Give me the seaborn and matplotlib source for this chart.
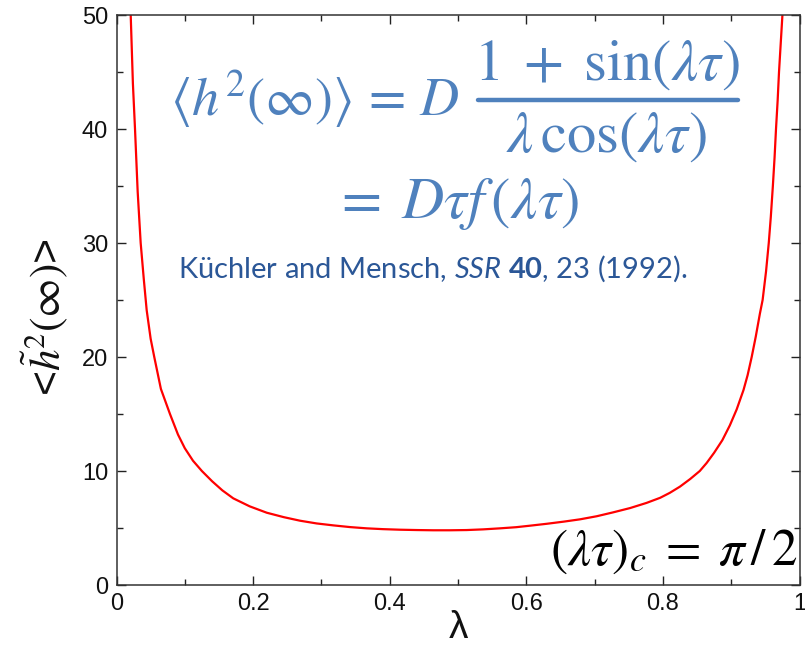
import matplotlib
matplotlib.use("Agg")
import matplotlib.pyplot as plt
from matplotlib.lines import Line2D
from matplotlib.ticker import MultipleLocator
import seaborn as sns
import pandas as pd

# Mean squared height at long times versus lambda
lam = [0.0208, 0.0240, 0.0271, 0.0310, 0.0354, 0.0400, 0.0442, 0.0500,
       0.0553, 0.0650, 0.0783, 0.0900, 0.1000, 0.1120, 0.1250, 0.1400,
       0.1550, 0.1710, 0.1950, 0.2200, 0.2450, 0.2687, 0.2930, 0.3174,
       0.3420, 0.3663, 0.3900, 0.4150, 0.4400, 0.4638, 0.4880, 0.5127,
       0.5370, 0.5615, 0.5850, 0.6050, 0.6300, 0.6550, 0.6786, 0.7030,
       0.7270, 0.7520, 0.7760, 0.7960, 0.8100, 0.8250, 0.8400, 0.8540,
       0.8640, 0.8750, 0.8870, 0.8980, 0.9080, 0.9180, 0.9240, 0.9300,
       0.9360, 0.9420, 0.9460, 0.9510, 0.9550, 0.9580, 0.9610, 0.9635,
       0.9656, 0.9680, 0.9700, 0.9725, 0.9750]
h2 = [50.0, 44.0, 40.0, 34.5, 30.0, 26.8, 24.1, 21.6,
      20.0, 17.2, 15.0, 13.2, 12.0, 10.9, 10.0, 9.1,
      8.3, 7.6, 6.9, 6.34, 5.95, 5.64, 5.40, 5.23,
      5.08, 4.97, 4.90, 4.85, 4.82, 4.80, 4.80, 4.82,
      4.88, 4.97, 5.07, 5.20, 5.37, 5.56, 5.76, 6.03,
      6.37, 6.75, 7.20, 7.65, 8.08, 8.63, 9.30, 10.0,
      10.7, 11.6, 12.7, 14.0, 15.4, 17.1, 18.4, 20.0,
      21.8, 23.8, 25.0, 27.5, 30.0, 32.3, 35.0, 37.5,
      40.0, 42.5, 45.0, 47.5, 50.0]

x_ticks = [0, 0.2, 0.4, 0.6, 0.8, 1]
x_tick_labels = ["0", "0.2", "0.4", "0.6", "0.8", "1"]
y_ticks = [0, 10, 20, 30, 40, 50]

df = pd.DataFrame({"lam": lam, "h2": h2})

sns.set_theme(style="ticks")
plt.rcParams["font.family"] = ["Liberation Sans", "DejaVu Sans"]
plt.rcParams["mathtext.fontset"] = "custom"
plt.rcParams["mathtext.rm"] = "Lato"
plt.rcParams["mathtext.it"] = "Lato:italic"
plt.rcParams["mathtext.bf"] = "Lato:bold"

W, H = 805, 649
fig = plt.figure(figsize=(W / 100, H / 100), dpi=100)
ax = fig.add_axes([116.5 / W, 1 - 585 / H, 683 / W, 570 / H])


def px(x, y):
    return x / W, 1 - y / H


sns.lineplot(data=df, x="lam", y="h2", ax=ax, color="#ff0000",
             linewidth=1.6, estimator=None, sort=False)

ax.set_xlim(0, 1)
ax.set_ylim(0, 50)
ax.set_xticks(x_ticks)
ax.set_xticklabels(x_tick_labels)
ax.set_yticks(y_ticks)
ax.xaxis.set_minor_locator(MultipleLocator(0.1))
ax.yaxis.set_minor_locator(MultipleLocator(5))
ax.tick_params(which="both", direction="in", top=True, right=True,
               color="#222222", width=1.0)
ax.tick_params(which="major", length=6.5, labelsize=17, pad=6,
               labelcolor="#111111")
ax.tick_params(which="minor", length=4)
for s in ax.spines.values():
    s.set_color("#333333")
    s.set_linewidth(1.1)

ax.set_xlabel("λ", fontsize=28, labelpad=-4, color="#111111")
ax.set_ylabel(r"<$\tilde{h}^2(\infty)$>", fontsize=31, color="#111111",
              math_fontfamily="stix")
ax.yaxis.set_label_coords(-0.066, 0.47)

blue = "#4f81bd"
fsz = 42
fig.text(*px(170, 116), r"$\langle h^2(\infty)\rangle\,=\,D$", color=blue,
         fontsize=39, math_fontfamily="stix", va="baseline", ha="left")
fig.text(*px(607, 80), r"$1\;+\;\sin(\lambda\tau)$", color=blue,
         fontsize=fsz, math_fontfamily="stix", va="baseline", ha="center")
fig.add_artist(Line2D([478 / W, 738 / W], [1 - 100 / H, 1 - 100 / H],
                      color=blue, linewidth=3.2, transform=fig.transFigure))
fig.text(*px(607, 152), r"$\lambda\,\cos(\lambda\tau)$", color=blue,
         fontsize=fsz, math_fontfamily="stix", va="baseline", ha="center")
fig.text(*px(456, 218), r"$=\;D\tau f\,(\lambda\tau)$", color=blue,
         fontsize=fsz, math_fontfamily="stix", va="baseline", ha="center")

fig.text(*px(178, 278),
         r"Küchler and Mensch, $\mathit{SSR}$ $\mathbf{40}$, 23 (1992).",
         color="#2b5797", fontsize=21, family="Lato", va="baseline",
         ha="left")

fig.text(*px(797, 565), r"$(\lambda\tau)_c\;=\;\pi\,/\,2$", color="black",
         fontsize=37, math_fontfamily="stix", va="baseline", ha="right")

fig.savefig("out.png", dpi=100)
